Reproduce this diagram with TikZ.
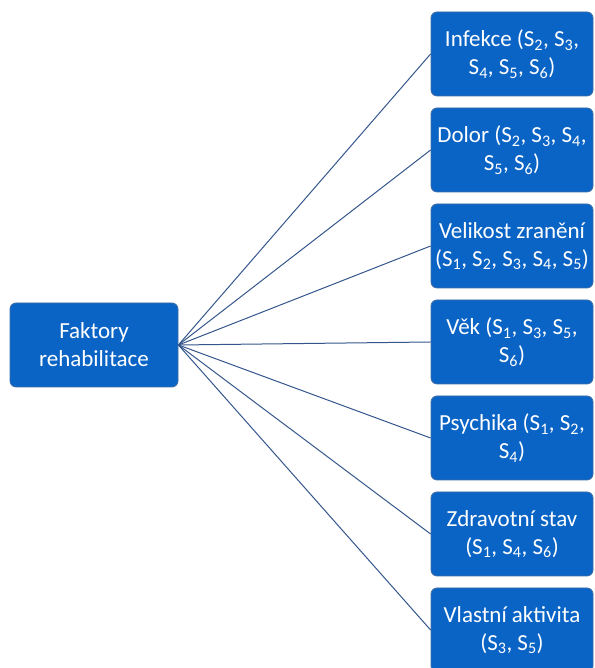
\documentclass[tikz,border=0pt]{standalone}
\usepackage{fontspec}
\setmainfont{Carlito}
\definecolor{boxfill}{HTML}{0A64C6}
\definecolor{boxedge}{HTML}{3F6CA8}
\definecolor{linkline}{HTML}{34568C}
\newcommand{\Sx}[1]{S\textsubscript{#1}}
\tikzset{
  factor/.style={draw=boxedge, line width=0.8pt, fill=boxfill, rounded corners=6pt,
    text=white, align=center, minimum height=84pt, inner sep=0pt,
    font=\fontsize{23}{28}\selectfont},
  link/.style={draw=linkline, line width=1pt}
}
\begin{document}
\begin{tikzpicture}[x=1pt,y=1pt]
\useasboundingbox (0,0) rectangle (594,668);
\clip (0,0) rectangle (594,668);
\node[factor, minimum width=168pt] (root) at (94,323) {Faktory\\rehabilitace};
\node[factor, minimum width=162pt] (f1) at (512,614) {Infekce (\Sx{2}, \Sx{3},\\\Sx{4}, \Sx{5}, \Sx{6})};
\node[factor, minimum width=162pt] (f2) at (512,518) {Dolor (\Sx{2}, \Sx{3}, \Sx{4},\\\Sx{5}, \Sx{6})};
\node[factor, minimum width=162pt] (f3) at (512,422) {Velikost zranění\\(\Sx{1}, \Sx{2}, \Sx{3}, \Sx{4}, \Sx{5})};
\node[factor, minimum width=162pt] (f4) at (512,326) {Věk (\Sx{1}, \Sx{3}, \Sx{5},\\\Sx{6})};
\node[factor, minimum width=162pt] (f5) at (512,230) {Psychika (\Sx{1}, \Sx{2},\\\Sx{4})};
\node[factor, minimum width=162pt] (f6) at (512,134) {Zdravotní stav\\(\Sx{1}, \Sx{4}, \Sx{6})};
\node[factor, minimum width=162pt] (f7) at (512,38) {Vlastní aktivita\\(\Sx{3}, \Sx{5})};
\foreach \k in {1,...,7}
  \draw[link] (root.east) -- (f\k.west);
\end{tikzpicture}
\end{document}
